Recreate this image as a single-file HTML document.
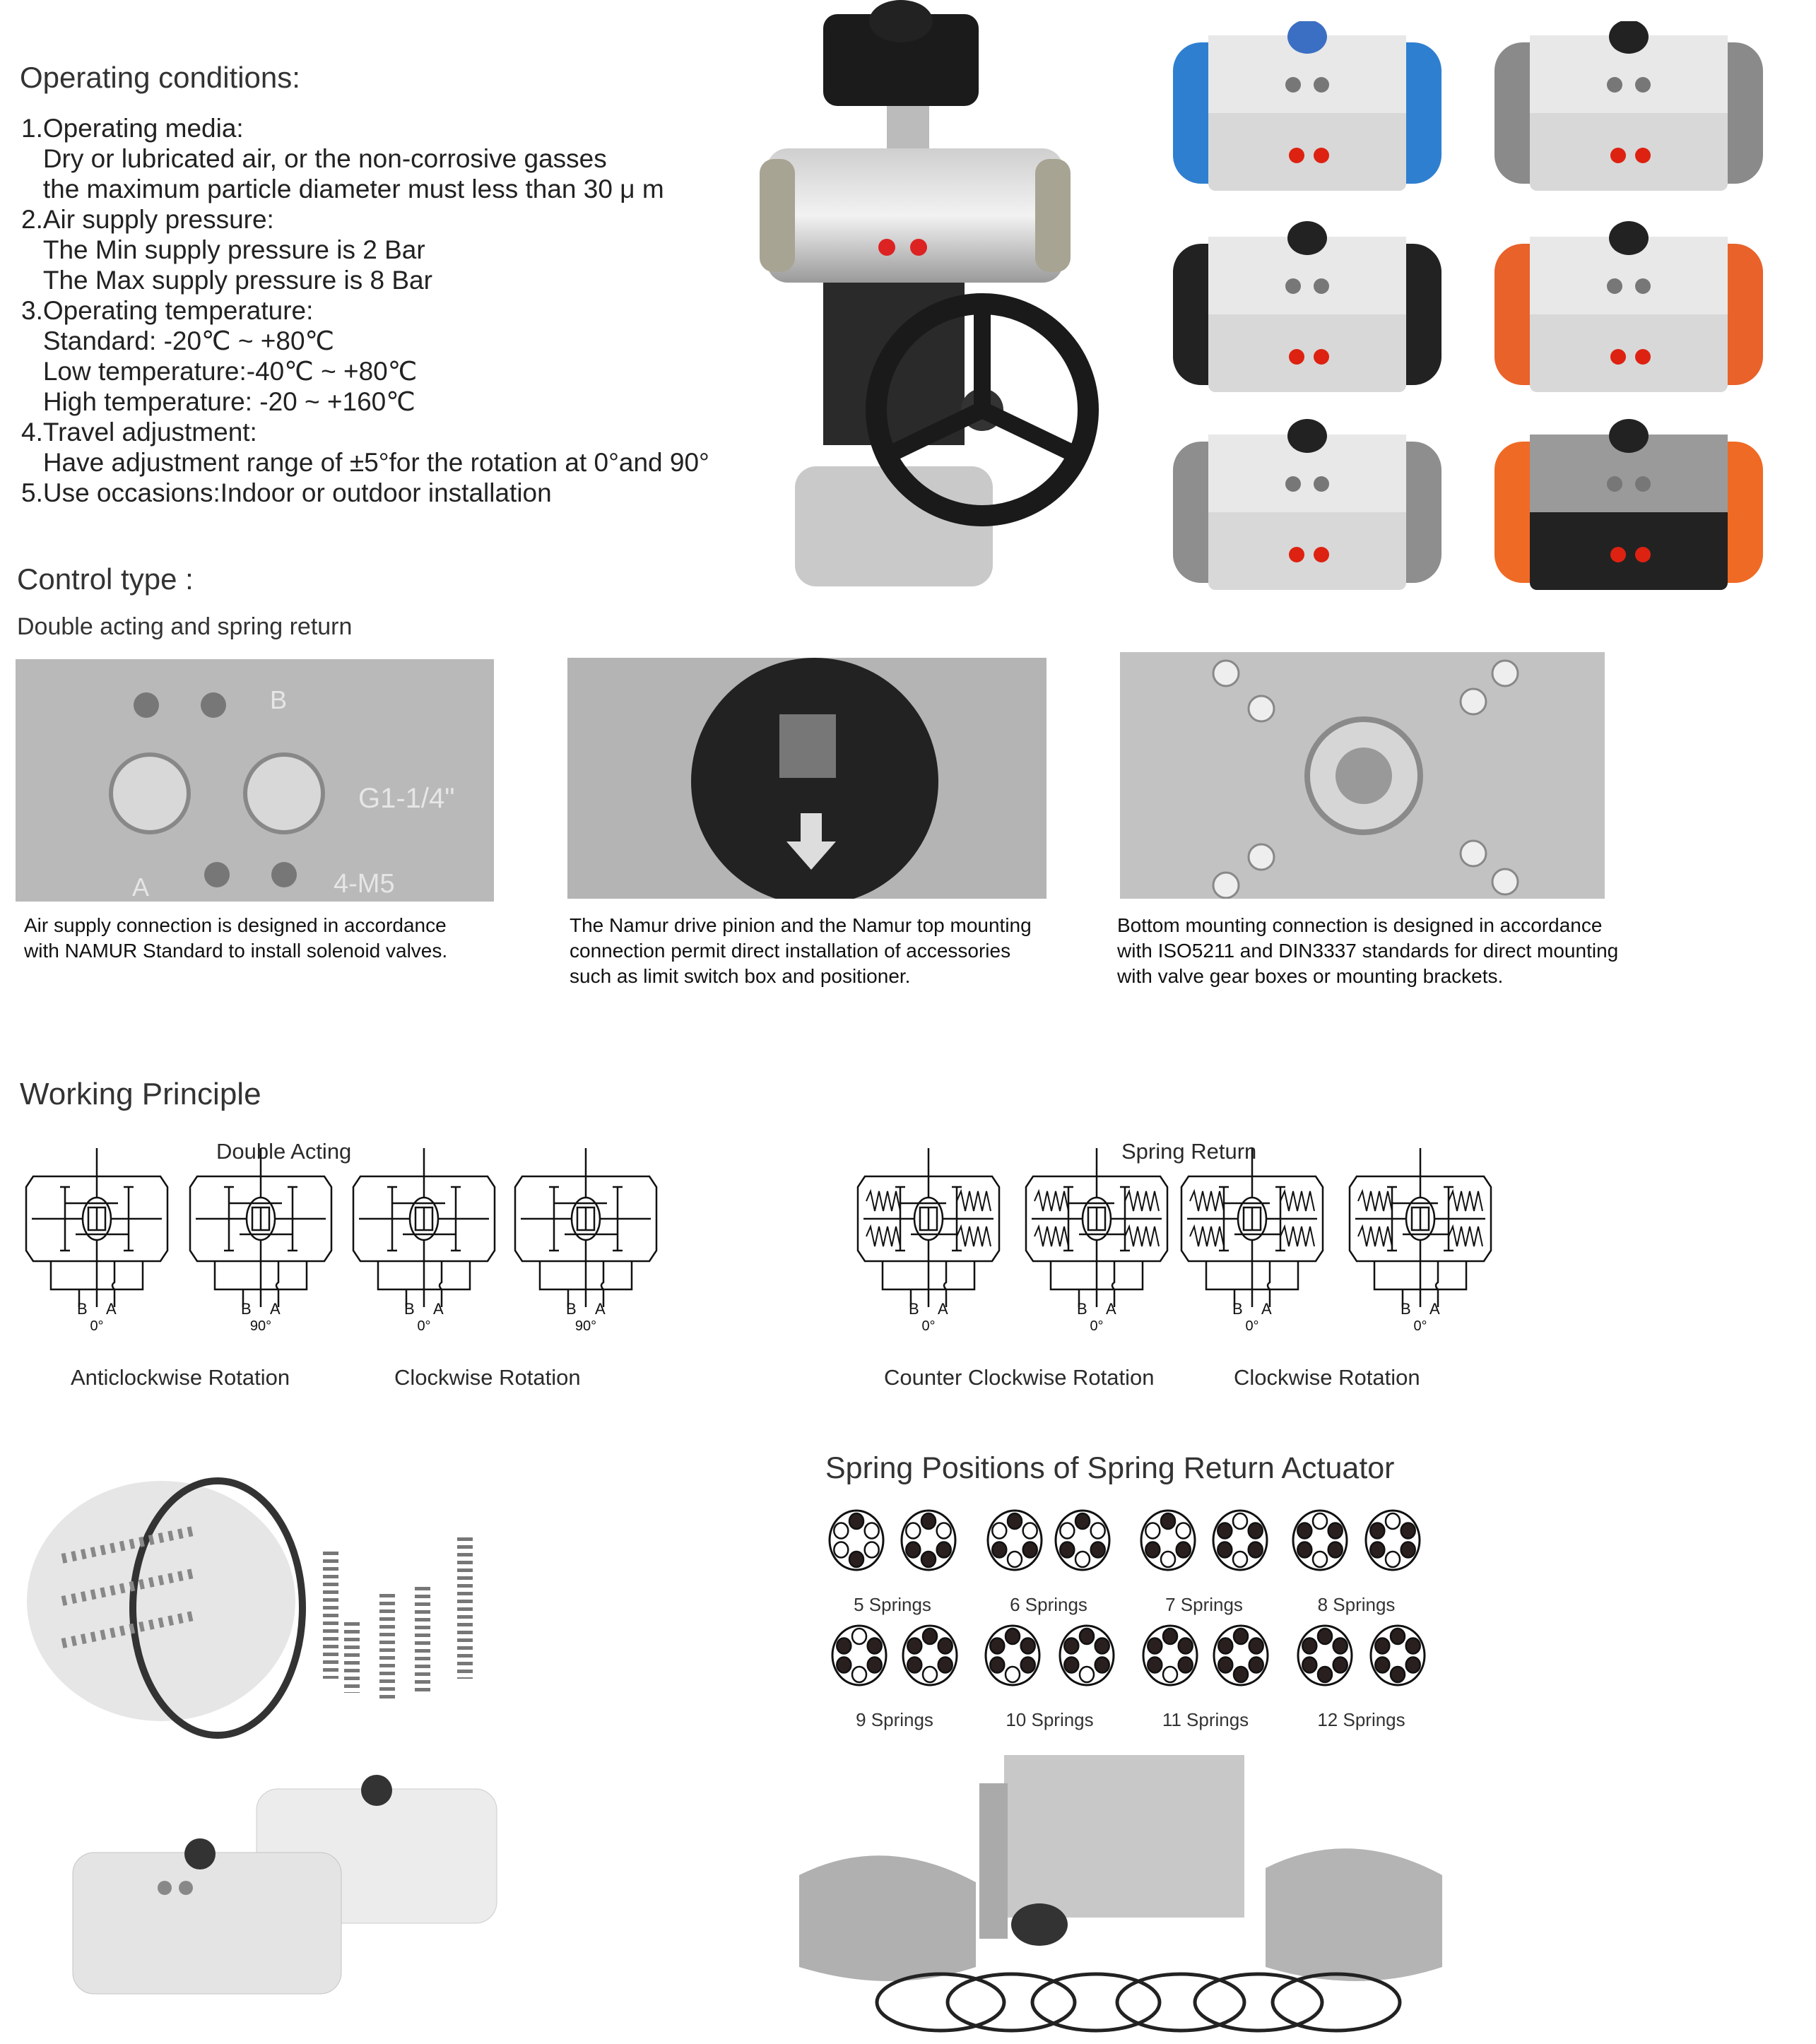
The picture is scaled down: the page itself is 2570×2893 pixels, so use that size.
<!DOCTYPE html>
<html><head><meta charset="utf-8">
<style>
html,body{margin:0;padding:0;background:#fff;}
body{width:2570px;height:2893px;position:relative;overflow:hidden;font-family:"Liberation Sans",sans-serif;color:#2a2a2a;}
.t{position:absolute;white-space:nowrap;}
.h{font-size:42px;color:#333;}
.b{font-size:37px;line-height:43px;color:#222;}
.cap{font-size:28px;line-height:36px;color:#111;}
.box{position:absolute;}
</style></head><body>

<div class="t h" style="left:28px;top:86px;">Operating conditions:</div>
<div class="t b" style="left:30px;top:160px;">
1.Operating media:<br>
&nbsp;&nbsp;&nbsp;Dry or lubricated air, or the non-corrosive gasses<br>
&nbsp;&nbsp;&nbsp;the maximum particle diameter must less than 30 μ m<br>
2.Air supply pressure:<br>
&nbsp;&nbsp;&nbsp;The Min supply pressure is 2 Bar<br>
&nbsp;&nbsp;&nbsp;The Max supply pressure is 8 Bar<br>
3.Operating temperature:<br>
&nbsp;&nbsp;&nbsp;Standard: -20℃ ~ +80℃<br>
&nbsp;&nbsp;&nbsp;Low temperature:-40℃ ~ +80℃<br>
&nbsp;&nbsp;&nbsp;High temperature: -20 ~ +160℃<br>
4.Travel adjustment:<br>
&nbsp;&nbsp;&nbsp;Have adjustment range of ±5°for the rotation at 0°and 90°<br>
5.Use occasions:Indoor or outdoor installation
</div>
<div class="t h" style="left:24px;top:796px;">Control type :</div>
<div class="t" style="left:24px;top:868px;font-size:34px;color:#333;">Double acting and spring return</div>

<!-- valve photo -->
<svg class="box" style="left:1075px;top:0" width="540" height="860">
<defs><linearGradient id="al" x1="0" y1="0" x2="0" y2="1"><stop offset="0" stop-color="#cfcfcf"/><stop offset=".5" stop-color="#f2f2f2"/><stop offset="1" stop-color="#9a9a9a"/></linearGradient></defs>
<rect x="90" y="20" width="220" height="130" rx="20" fill="#1b1b1b"/>
<ellipse cx="200" cy="30" rx="45" ry="30" fill="#222"/>
<rect x="180" y="150" width="60" height="60" fill="#bbb"/>
<rect x="10" y="210" width="420" height="190" rx="30" fill="url(#al)"/>
<rect x="0" y="225" width="50" height="160" rx="20" fill="#a8a493"/>
<rect x="390" y="225" width="50" height="160" rx="20" fill="#a8a493"/>
<circle cx="180" cy="350" r="12" fill="#d22"/><circle cx="225" cy="350" r="12" fill="#d22"/>
<rect x="90" y="400" width="200" height="230" fill="#2a2a2a"/>
<rect x="50" y="660" width="280" height="170" rx="30" fill="#c9c9c9"/>
<circle cx="315" cy="580" r="150" fill="none" stroke="#1a1a1a" stroke-width="30"/>
<circle cx="315" cy="580" r="30" fill="#333"/>
<line x1="315" y1="580" x2="315" y2="440" stroke="#1a1a1a" stroke-width="24"/>
<line x1="315" y1="580" x2="190" y2="640" stroke="#1a1a1a" stroke-width="24"/>
<line x1="315" y1="580" x2="440" y2="640" stroke="#1a1a1a" stroke-width="24"/>
</svg>

<svg class="box" style="left:1640px;top:30px" width="880" height="840" id="acts"></svg>

<svg class="box" style="left:22px;top:933px" width="677" height="343">
<rect width="677" height="343" fill="#b9b9b9"/>
<circle cx="190" cy="190" r="55" fill="#d8d8d8" stroke="#888" stroke-width="6"/>
<circle cx="380" cy="190" r="55" fill="#d8d8d8" stroke="#888" stroke-width="6"/>
<circle cx="185" cy="65" r="18" fill="#777"/><circle cx="280" cy="65" r="18" fill="#777"/>
<circle cx="285" cy="305" r="18" fill="#777"/><circle cx="380" cy="305" r="18" fill="#777"/>
<text x="360" y="70" font-size="36" fill="#e6e6e6" font-family="Liberation Sans">B</text>
<text x="485" y="210" font-size="40" fill="#e6e6e6" font-family="Liberation Sans">G1-1/4"</text>
<text x="165" y="335" font-size="36" fill="#e6e6e6" font-family="Liberation Sans">A</text>
<text x="450" y="330" font-size="38" fill="#e6e6e6" font-family="Liberation Sans">4-M5</text>
</svg>
<svg class="box" style="left:803px;top:931px" width="678" height="341">
<rect width="678" height="341" fill="#b4b4b4"/>
<circle cx="350" cy="175" r="175" fill="#222"/>
<rect x="300" y="80" width="80" height="90" fill="#777"/>
<path d="M330 220 h30 v40 h20 l-35 40 l-35 -40 h20z" fill="#ddd"/>
</svg>
<svg class="box" style="left:1585px;top:923px" width="686" height="349">
<rect width="686" height="349" fill="#c2c2c2"/>
<circle cx="345" cy="175" r="80" fill="#d6d6d6" stroke="#8a8a8a" stroke-width="8"/>
<circle cx="345" cy="175" r="40" fill="#999"/>
<g fill="#eee" stroke="#888" stroke-width="3"><circle cx="150" cy="30" r="18"/><circle cx="200" cy="80" r="18"/><circle cx="500" cy="70" r="18"/><circle cx="545" cy="30" r="18"/><circle cx="200" cy="290" r="18"/><circle cx="150" cy="330" r="18"/><circle cx="500" cy="285" r="18"/><circle cx="545" cy="325" r="18"/></g>
</svg>

<div class="t cap" style="left:34px;top:1292px;">Air supply connection is designed in accordance<br>with NAMUR Standard to install solenoid valves.</div>
<div class="t cap" style="left:806px;top:1292px;">The Namur drive pinion and the Namur top mounting<br>connection permit direct installation of accessories<br>such as limit switch box and positioner.</div>
<div class="t cap" style="left:1581px;top:1292px;">Bottom mounting connection is designed in accordance<br>with ISO5211 and DIN3337 standards for direct mounting<br>with valve gear boxes or mounting brackets.</div>

<div class="t" style="left:28px;top:1524px;font-size:44px;color:#333;">Working Principle</div>
<div class="t" style="left:306px;top:1612px;font-size:31px;">Double Acting</div>
<div class="t" style="left:1587px;top:1612px;font-size:31px;">Spring Return</div>

<svg class="box" style="left:0;top:1625px" width="2200" height="260" id="diags" font-family="Liberation Sans"></svg>

<div class="t" style="left:100px;top:1932px;font-size:31px;">Anticlockwise Rotation</div>
<div class="t" style="left:558px;top:1932px;font-size:31px;">Clockwise Rotation</div>
<div class="t" style="left:1251px;top:1932px;font-size:31px;">Counter Clockwise Rotation</div>
<div class="t" style="left:1746px;top:1932px;font-size:31px;">Clockwise Rotation</div>

<svg class="box" style="left:28px;top:2076px" width="700" height="400">
<ellipse cx="200" cy="190" rx="190" ry="170" fill="#e6e6e6"/>
<ellipse cx="280" cy="200" rx="120" ry="180" fill="none" stroke="#333" stroke-width="10"/>
<g stroke="#888" stroke-width="14" fill="none">
<line x1="60" y1="130" x2="250" y2="90" stroke-dasharray="6 8"/><line x1="60" y1="190" x2="250" y2="150" stroke-dasharray="6 8"/><line x1="60" y1="250" x2="250" y2="210" stroke-dasharray="6 8"/></g>
<g stroke="#777" stroke-width="22" stroke-dasharray="5 6">
<line x1="440" y1="120" x2="440" y2="300"/><line x1="520" y1="180" x2="520" y2="330"/><line x1="570" y1="170" x2="570" y2="320"/><line x1="630" y1="100" x2="630" y2="300"/><line x1="470" y1="220" x2="470" y2="320"/></g>
</svg>
<svg class="box" style="left:93px;top:2512px" width="630" height="320">
<g><rect x="270" y="20" width="340" height="190" rx="30" fill="#ececec" stroke="#ccc"/><circle cx="440" cy="22" r="22" fill="#333"/></g>
<g><rect x="10" y="110" width="380" height="200" rx="30" fill="#e4e4e4" stroke="#c4c4c4"/><circle cx="190" cy="112" r="22" fill="#333"/><circle cx="140" cy="160" r="10" fill="#888"/><circle cx="170" cy="160" r="10" fill="#888"/></g>
</svg>

<div class="t" style="left:1168px;top:2054px;font-size:43px;color:#333;">Spring Positions of Spring Return Actuator</div>
<svg class="box" style="left:1150px;top:2120px" width="900" height="340" id="sp" font-family="Liberation Sans"></svg>

<svg class="box" style="left:1131px;top:2484px" width="910" height="400">
<rect x="290" y="0" width="340" height="230" fill="#c8c8c8"/>
<rect x="255" y="40" width="40" height="220" fill="#aaa"/>
<path d="M0 170 q120 -60 250 10 v120 q-120 40 -250 0z" fill="#b0b0b0"/>
<path d="M660 160 q120 -60 250 10 v130 q-120 40 -250 0z" fill="#b4b4b4"/>
<ellipse cx="340" cy="240" rx="40" ry="30" fill="#333"/>
<g fill="none" stroke="#222" stroke-width="5">
<ellipse cx="200" cy="350" rx="90" ry="40"/><ellipse cx="300" cy="350" rx="90" ry="40"/><ellipse cx="420" cy="350" rx="90" ry="40"/><ellipse cx="540" cy="350" rx="90" ry="40"/><ellipse cx="650" cy="350" rx="90" ry="40"/><ellipse cx="760" cy="350" rx="90" ry="40"/></g>
</svg>

<script>
(function(){
 var s=document.getElementById('acts'),h='';
 var caps=[['#2f7fd0','#3b6fc4'],['#8a8a8a','#222'],['#222','#222'],['#e8622a','#222'],['#8e8e8e','#222'],['#ef6a25','#222']];
 var pos=[[20,0],[475,0],[20,285],[475,285],[20,565],[475,565]];
 for(var i=0;i<6;i++){var x=pos[i][0],y=pos[i][1],c=caps[i];
  h+='<rect x="'+x+'" y="'+(y+30)+'" width="380" height="200" rx="40" fill="'+c[0]+'"/>';
  h+='<rect x="'+(x+50)+'" y="'+(y+20)+'" width="280" height="220" rx="10" fill="'+(i==5?'#222':'#d8d8d8')+'"/>';
  h+='<rect x="'+(x+50)+'" y="'+(y+20)+'" width="280" height="110" fill="'+(i==5?'#9a9a9a':'#e8e8e8')+'"/>';
  h+='<ellipse cx="'+(x+190)+'" cy="'+(y+22)+'" rx="28" ry="24" fill="'+c[1]+'"/>';
  h+='<circle cx="'+(x+170)+'" cy="'+(y+90)+'" r="11" fill="#777"/><circle cx="'+(x+210)+'" cy="'+(y+90)+'" r="11" fill="#777"/>';
  h+='<circle cx="'+(x+175)+'" cy="'+(y+190)+'" r="11" fill="#d21"/><circle cx="'+(x+210)+'" cy="'+(y+190)+'" r="11" fill="#d21"/>';
 }
 s.innerHTML=h;
})();
(function(){
 var s=document.getElementById('diags'),h='';
 function zig(x1,x2,y){var p='M'+x1+' '+y,n=8,w=(x2-x1)/n;for(var i=1;i<=n;i++){p+=' L'+(x1+w*i)+' '+(y+(i%2?-14:14));}return '<path d="'+p+'" fill="none" stroke="#111" stroke-width="2"/>';}
 function d(x,spring,deg){var L='<g transform="translate('+x+',0)" stroke="#111" stroke-width="2.5" fill="none">';
  L+='<path d="M10 40 H190 L200 55 V145 L190 160 H10 L0 145 V55Z"/>';
  L+='<line x1="100" y1="0" x2="100" y2="225"/>';
  L+='<line x1="8" y1="100" x2="192" y2="100"/>';
  L+='<ellipse cx="100" cy="100" rx="20" ry="30" fill="#fff"/><rect x="88" y="84" width="24" height="32"/><line x1="100" y1="84" x2="100" y2="116"/>';
  var a=spring?60:55,b=spring?140:145;
  L+='<line x1="'+a+'" y1="55" x2="'+a+'" y2="145"/><line x1="'+b+'" y1="55" x2="'+b+'" y2="145"/>';
  L+='<line x1="'+(a-7)+'" y1="55" x2="'+(a+7)+'" y2="55"/><line x1="'+(a-7)+'" y1="145" x2="'+(a+7)+'" y2="145"/><line x1="'+(b-7)+'" y1="55" x2="'+(b+7)+'" y2="55"/><line x1="'+(b-7)+'" y1="145" x2="'+(b+7)+'" y2="145"/>';
  L+='<line x1="'+a+'" y1="78" x2="'+(b-15)+'" y2="78"/><line x1="'+(a+15)+'" y1="122" x2="'+b+'" y2="122"/>';
  if(spring){L+=zig(12,a,75)+zig(12,a,125)+zig(b,188,75)+zig(b,188,125);}
  L+='<path d="M35 160 V200 H165 V160 M125 160 V190 q-6 4 0 10 V225 M75 200 V225"/>';
  L+='</g>';
  L+='<text x="'+(x+72)+'" y="235" font-size="22" fill="#111">B</text><text x="'+(x+113)+'" y="235" font-size="22" fill="#111">A</text>';
  L+='<text x="'+(x+100)+'" y="258" font-size="20" fill="#111" text-anchor="middle">'+deg+'</text>';
  return L;}
 h+=d(37,0,'0°')+d(269,0,'90°')+d(500,0,'0°')+d(729,0,'90°');
 h+=d(1214,1,'0°')+d(1452,1,'0°')+d(1672,1,'0°')+d(1910,1,'0°');
 s.innerHTML=h;
})();
(function(){
 var s=document.getElementById('sp'),h='';
 var F=[[1,0,0,1,0,0],[1,0,1,1,1,0],[1,0,1,0,1,0],[1,0,1,0,1,0],[1,0,1,0,1,0],[0,1,1,0,1,1],[0,1,1,0,1,1],[0,1,1,0,1,1],
        [0,1,1,0,1,1],[1,1,1,0,1,1],[1,1,1,0,1,1],[1,1,1,0,1,1],[1,1,1,0,1,1],[1,1,1,1,1,1],[1,1,1,1,1,1],[1,1,1,1,1,1]];
 var xs=[[62,164,286,382,503,605,718,821],[66,166,283,388,506,606,725,828]];
 var ys=[60,223],lab=[['5 Springs','6 Springs','7 Springs','8 Springs'],['9 Springs','10 Springs','11 Springs','12 Springs']];
 for(var r=0;r<2;r++){for(var k=0;k<8;k++){var cx=xs[r][k],cy=ys[r],f=F[r*8+k];
   h+='<ellipse cx="'+cx+'" cy="'+cy+'" rx="38" ry="42" fill="#fff" stroke="#111" stroke-width="3"/>';
   for(var j=0;j<6;j++){var an=(-90+60*j)*Math.PI/180;var px=cx+25*Math.cos(an),py=cy+27*Math.sin(an);
     h+='<ellipse cx="'+px.toFixed(1)+'" cy="'+py.toFixed(1)+'" rx="10" ry="11" fill="'+(f[j]?'#2a1f1f':'#fff')+'" stroke="#111" stroke-width="2.5"/>';}
  }
  for(var m=0;m<4;m++){h+='<text x="'+((xs[r][2*m]+xs[r][2*m+1])/2)+'" y="'+(ys[r]+100)+'" font-size="26" fill="#333" text-anchor="middle">'+lab[r][m]+'</text>';}
 }
 s.innerHTML=h;
})();
</script>
</body></html>
